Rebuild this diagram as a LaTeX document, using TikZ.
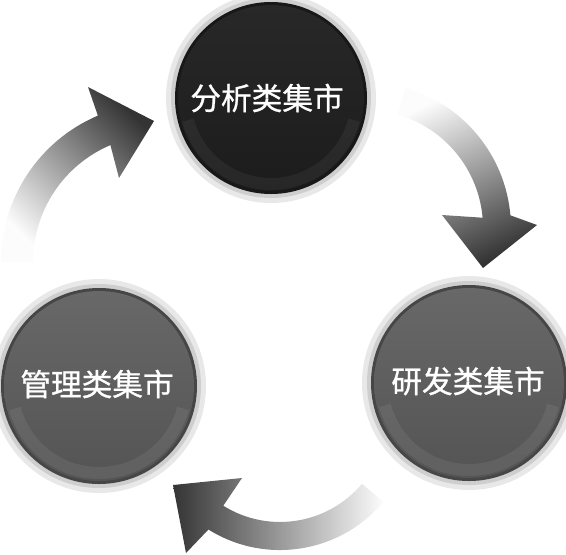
\documentclass[tikz,border=0pt]{standalone}
\usepackage{fontspec}
\newfontfamily\cjk[FakeBold=0.9]{Noto Sans CJK SC}
\definecolor{ringout}{RGB}{232,232,232}
\definecolor{ringin}{RGB}{206,206,206}
\definecolor{rimdark}{RGB}{24,24,24}
\definecolor{balltop}{RGB}{40,40,40}
\definecolor{ballbot}{RGB}{28,28,28}
\definecolor{rimgray}{RGB}{70,70,70}
\definecolor{graytop}{RGB}{104,104,104}
\definecolor{graybot}{RGB}{84,84,84}
\definecolor{arrowdark}{RGB}{52,52,52}
\definecolor{arrowmid}{RGB}{132,132,132}
\definecolor{arrowlight}{RGB}{252,252,252}
\tikzset{every picture/.style={line width=0.75pt}}
\begin{document}
\begin{tikzpicture}[x=0.75pt,y=0.75pt,yscale=-1,xscale=1]
\useasboundingbox (0,0) rectangle (566,554);

%Shape: Circle [id:top ball]
\fill [ringout] (271,98) circle (105) ;
\fill [ringin] (271,98) circle (100) ;
\fill [rimdark] (271,98) circle (96) ;
\shade [top color=balltop, bottom color=ballbot] (271,98) circle (93) ;
\draw [white, opacity=0.05, line width=9] (271,98) ++(165:86) arc (165:15:86) ;
%Shape: Circle [id:right ball]
\fill [ringout] (469,383) circle (107) ;
\fill [ringin] (469,383) circle (102) ;
\fill [rimgray] (469,383) circle (98) ;
\shade [top color=graytop, bottom color=graybot] (469,383) circle (95) ;
\draw [white, opacity=0.07, line width=9] (469,383) ++(165:87) arc (165:15:87) ;
%Shape: Circle [id:left ball]
\fill [ringout] (99,386) circle (107) ;
\fill [ringin] (99,386) circle (102) ;
\fill [rimgray] (99,386) circle (98) ;
\shade [top color=graytop, bottom color=graybot] (99,386) circle (95) ;
\draw [white, opacity=0.07, line width=9] (99,386) ++(165:87) arc (165:15:87) ;

%Shape: Arc Arrow [id:left to top]
\shade [bottom color=arrowlight, middle color=arrowmid, top color=arrowdark, shading angle=-45] (1,262) arc (-180:-113:159) -- (88,87) -- (154,121) -- (119,178) -- (110.4,145.1) arc (-113:-180:127) -- cycle ;
%Shape: Arc Arrow [id:top to right]
\shade [top color=arrowlight, middle color=arrowmid, bottom color=arrowdark, shading angle=25] (405.2,87.7) arc (-74:-5:146) -- (537,225) -- (483,268) -- (442,215) -- (482.6,217.7) arc (-5:-74:118) -- cycle ;
%Shape: Arc Arrow [id:right to left]
\shade [right color=arrowlight, middle color=arrowmid, left color=arrowdark] (383.4,501.8) arc (40:122:135) -- (186,553) -- (173,485) -- (242,478) -- (223.3,505.7) arc (122:40:107) -- cycle ;

% Text Node
\draw (267,98) node (fenxi) [inner sep=0.75pt] [color=white, font=\cjk\fontsize{23}{27}\selectfont] {分析类集市};
% Text Node
\draw (468,381) node (yanfa) [inner sep=0.75pt] [color=white, font=\cjk\fontsize{23}{27}\selectfont] {研发类集市};
% Text Node
\draw (97,384) node (guanli) [inner sep=0.75pt] [color=white, font=\cjk\fontsize{23}{27}\selectfont] {管理类集市};

\end{tikzpicture}
\end{document}
